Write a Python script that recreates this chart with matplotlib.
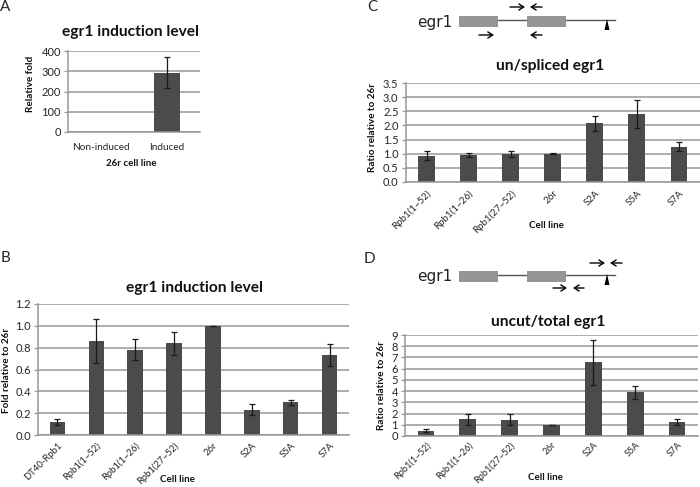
import matplotlib
matplotlib.use("Agg")
import matplotlib.pyplot as plt
from matplotlib.patches import Rectangle, Polygon

plt.rcParams['font.family'] = ['Lato', 'DejaVu Sans']

W, H = 700, 487
BAR = '#4b4b4b'
GRID = '#979797'
TXT = '#262626'

cats_a = ['Non-induced', 'Induced']
vals_a = [0, 293]
errs_a = [0, 78]
ticks_a = [0, 100, 200, 300, 400]
ticklabels_a = ['0', '100', '200', '300', '400']

cats_b = ['DT40-Rpb1', 'Rpb1(1~52)', 'Rpb1(1~26)', 'Rpb1(27~52)', '26r', 'S2A', 'S5A', 'S7A']
vals_b = [0.12, 0.86, 0.78, 0.84, 1.0, 0.23, 0.30, 0.73]
errs_b = [0.025, 0.205, 0.095, 0.105, 0.0, 0.05, 0.025, 0.10]
ticks_b = [0, 0.2, 0.4, 0.6, 0.8, 1.0, 1.2]
ticklabels_b = ['0.0', '0.2', '0.4', '0.6', '0.8', '1.0', '1.2']

cats_c = ['Rpb1(1~52)', 'Rpb1(1~26)', 'Rpb1(27~52)', '26r', 'S2A', 'S5A', 'S7A']
vals_c = [0.93, 0.95, 1.0, 1.0, 2.08, 2.41, 1.24]
errs_c = [0.15, 0.07, 0.10, 0.01, 0.27, 0.49, 0.16]
ticks_c = [0, 0.5, 1.0, 1.5, 2.0, 2.5, 3.0, 3.5]
ticklabels_c = ['0.0', '0.5', '1.0', '1.5', '2.0', '2.5', '3.0', '3.5']

cats_d = cats_c
vals_d = [0.47, 1.48, 1.47, 1.0, 6.55, 3.88, 1.25]
errs_d = [0.12, 0.50, 0.53, 0.02, 2.0, 0.60, 0.27]
ticks_d = [0, 1, 2, 3, 4, 5, 6, 7, 8, 9]
ticklabels_d = [str(t) for t in ticks_d]

fig = plt.figure(figsize=(W / 100, H / 100), dpi=100, facecolor='white')


def T(x, y, s, **kw):
    kw.setdefault('ha', 'center')
    kw.setdefault('va', 'center')
    kw.setdefault('color', TXT)
    fig.text(x / W, 1 - y / H, s, **kw)


def panel(box, cats, vals, errs, ticks, labels, title, title_xy, ylabel, ylabel_xy,
          xlabel, xlabel_xy, rotate=True, width=0.4, ts=11.2, ls=8, rot_size=7, rot_pad=5):
    l, t, r, b = box
    ax = fig.add_axes([l / W, 1 - b / H, (r - l) / W, (b - t) / H])
    ax.set_axisbelow(True)
    ax.yaxis.grid(True, color=GRID, lw=1.1)
    ax.xaxis.grid(False)
    x = list(range(len(cats)))
    ax.bar(x, vals, width=width, color=BAR, edgecolor='none', zorder=2)
    shown = [i for i in x if vals[i] > 0]
    ax.errorbar(shown, [vals[i] for i in shown], yerr=[errs[i] for i in shown],
                fmt='none', ecolor='#1a1a1a', elinewidth=0.9,
                capsize=2.2, capthick=0.9, zorder=3)
    ax.set_xlim(-0.5, len(cats) - 0.5)
    ax.set_ylim(ticks[0], ticks[-1])
    ax.set_yticks(ticks)
    ax.set_yticklabels(labels, fontsize=ls, color=TXT)
    ax.set_xticks(x)
    if rotate:
        ax.set_xticklabels(cats, fontsize=rot_size, color=TXT, rotation=45, ha='right',
                           rotation_mode='anchor')
    else:
        ax.set_xticklabels(cats, fontsize=7.2, color=TXT)
    ax.tick_params(axis='y', length=3, width=0.9, color=GRID, pad=2)
    ax.tick_params(axis='x', length=0, pad=8 if not rotate else rot_pad)
    for s in ('top', 'right'):
        ax.spines[s].set_visible(False)
    for s in ('left', 'bottom'):
        ax.spines[s].set_color(GRID)
        ax.spines[s].set_linewidth(1.1)
    T(*title_xy, title, fontsize=ts, fontweight='bold', color='#111111')
    T(*ylabel_xy, ylabel, fontsize=7.2, fontweight='bold', rotation=90, color='#111111')
    T(*xlabel_xy, xlabel, fontsize=7, fontweight='bold', color='#111111')
    return ax


panel((68, 51, 200, 132), cats_a, vals_a, errs_a, ticks_a, ticklabels_a,
      'egr1 induction level', (130, 32), 'Relative fold', (31, 84),
      '26r cell line', (131, 163), rotate=False)
panel((38, 304, 349, 435), cats_b, vals_b, errs_b, ticks_b, ticklabels_b,
      'egr1 induction level', (194, 288), 'Fold relative to 26r', (7, 370),
      'Cell line', (177, 479), rot_size=6.8, rot_pad=4)
panel((405.5, 83, 700, 182), cats_c, vals_c, errs_c, ticks_c, ticklabels_c,
      'un/spliced egr1', (550, 66), 'Ratio relative to 26r', (373, 128),
      'Cell line', (546, 225))
panel((405, 335, 698, 436), cats_d, vals_d, errs_d, ticks_d, ticklabels_d,
      'uncut/total egr1', (548, 322), 'Ratio relative to 26r', (382, 385),
      'Cell line', (545, 477), rot_size=6.7, rot_pad=3)

# overlay in pixel coordinates for the gene diagrams and panel letters
ov = fig.add_axes([0, 0, 1, 1], facecolor='none')
ov.set_xlim(0, W)
ov.set_ylim(H, 0)
ov.axis('off')


def gene(y_rect, y_line, tri_top, label_y):
    ov.plot([498, 615], [y_line, y_line], color='#555555', lw=1.0, zorder=1)
    for x0, x1 in ((459, 498), (527, 566)):
        ov.add_patch(Rectangle((x0, y_rect), x1 - x0, 11, fc='#959595', ec='none', zorder=2))
    ov.add_patch(Polygon([(607, tri_top), (604.5, tri_top + 11), (609.5, tri_top + 11)],
                         fc='black', ec='none', zorder=3))
    ov.text(435, label_y, 'egr1', fontsize=11, color='#222222', ha='center', va='center',
            family=['DejaVu Sans'])


def arrow(x0, x1, y):
    ov.annotate('', xy=(x1, y), xytext=(x0, y),
                arrowprops=dict(arrowstyle='->,head_length=0.35,head_width=0.22',
                                color='black', lw=1.0, shrinkA=0, shrinkB=0))


gene(16, 20, 19, 22)
gene(271, 275, 274, 277)
arrow(510, 525, 7)
arrow(542, 530, 7)
arrow(479, 494, 35)
arrow(542, 530, 35)
arrow(590, 605, 263)
arrow(622, 610, 263)
arrow(553, 567, 288)
arrow(584, 573, 288)

T(5, 7, 'A', fontsize=11)
T(5, 258, 'B', fontsize=11)
T(372, 7, 'C', fontsize=11)
T(369, 259, 'D', fontsize=11)

fig.savefig('out.png', dpi=100, facecolor='white')
